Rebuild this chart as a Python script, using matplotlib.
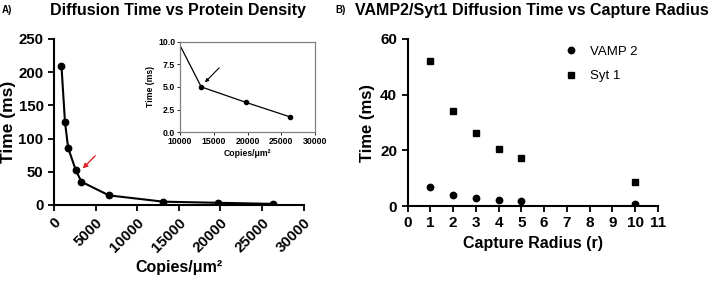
import numpy as np
import matplotlib
matplotlib.use("Agg")
import matplotlib.pyplot as plt

plt.rcParams.update({
    "font.family": ["Liberation Sans", "DejaVu Sans"],
    "font.weight": "bold",
    "axes.labelweight": "bold",
    "axes.spines.top": False,
    "axes.spines.right": False,
})

# ---------------- data ----------------
copies = [900, 1320, 1700, 2630, 3300, 6600, 13150, 19750, 26300]
diff_time = [209, 125, 86, 52, 35, 14.5, 5.0, 3.3, 1.7]

radius = [1, 2, 3, 4, 5, 10]
vamp2_time = [6.9, 4.0, 2.8, 2.0, 1.7, 0.7]
syt1_time = [52.1, 34.0, 26.1, 20.6, 17.4, 8.6]

W, H = 712, 287
fig = plt.figure(figsize=(W / 100, H / 100), dpi=100)

def fx(px):
    return px / W

def fy(py):
    return 1 - py / H

# ---------------- panel A ----------------
axA = fig.add_axes([fx(54), fy(205), fx(303.5) - fx(54), fy(39) - fy(205)])
axA.plot(copies, diff_time, color="black", lw=1.5, marker="o", ms=4.6)
axA.set_xlim(0, 30000)
axA.set_ylim(0, 250)
axA.set_xticks(np.arange(0, 30001, 5000))
axA.set_yticks(np.arange(0, 251, 50))
axA.tick_params(labelsize=10.8, width=1.3, length=4)
for lab in axA.get_xticklabels():
    lab.set_rotation(45)
    lab.set_ha("right")
    lab.set_rotation_mode("anchor")
for s in axA.spines.values():
    s.set_linewidth(1.5)
axA.set_xlabel("Copies/\u03bcm\u00b2", fontsize=11.5, labelpad=4)
axA.set_ylabel("Time (ms)", fontsize=12.5)
axA.yaxis.set_label_coords(-0.152, 0.5)
axA.annotate("", xy=(3450, 55), xytext=(4950, 74),
             arrowprops=dict(arrowstyle="-|>", color="#e0262b", lw=1.0,
                             mutation_scale=7, shrinkA=0, shrinkB=0))

# inset
axI = fig.add_axes([fx(180), fy(132.3), fx(315) - fx(180), fy(41.5) - fy(132.3)])
axI.plot(copies, diff_time, color="black", lw=0.9, marker="o", ms=3)
axI.set_xlim(10000, 30000)
axI.set_ylim(0, 10)
axI.set_xticks(np.arange(10000, 30001, 5000))
axI.set_yticks(np.arange(0, 10.1, 2.5))
axI.yaxis.set_major_formatter(matplotlib.ticker.FormatStrFormatter("%.1f"))
axI.tick_params(labelsize=6.3, width=0.6, length=2, pad=1.5)
for s in axI.spines.values():
    s.set_visible(True)
    s.set_color("#808080")
    s.set_linewidth(0.9)
axI.set_xlabel("Copies/\u03bcm\u00b2", fontsize=6.2, labelpad=2)
axI.set_ylabel("Time (ms)", fontsize=6.2, labelpad=2)
axI.annotate("", xy=(13700, 5.5), xytext=(15800, 7.1),
             arrowprops=dict(arrowstyle="-|>", color="black", lw=0.8,
                             mutation_scale=5, shrinkA=0, shrinkB=0))

fig.text(fx(2), fy(10), "A)", fontsize=7, fontweight="bold", va="center")
fig.text(fx(178), fy(10), "Diffusion Time vs Protein Density",
         fontsize=11.5, fontweight="bold", ha="center", va="center")

# ---------------- panel B ----------------
axB = fig.add_axes([fx(407.5), fy(206), fx(658) - fx(407.5), fy(39) - fy(206)])
axB.plot(radius, vamp2_time, ls="none", marker="o", ms=4.6, color="black",
         label="VAMP 2")
axB.plot(radius, syt1_time, ls="none", marker="s", ms=5, color="black",
         label="Syt 1")
axB.set_xlim(0, 11)
axB.set_ylim(0, 60)
axB.set_xticks(np.arange(0, 12, 1))
axB.set_yticks(np.arange(0, 61, 20))
axB.tick_params(labelsize=11, width=1.3, length=4)
for s in axB.spines.values():
    s.set_linewidth(1.5)
axB.set_xlabel("Capture Radius (r)", fontsize=11.5, labelpad=4)
axB.set_ylabel("Time (ms)", fontsize=12)
axB.yaxis.set_label_coords(-0.13, 0.5)
leg = axB.legend(loc="upper left", bbox_to_anchor=(0.575, 1.03), frameon=False,
                 prop={"size": 9.5, "weight": "normal"}, handletextpad=0.8,
                 labelspacing=0.9, handlelength=1.2)

fig.text(fx(335), fy(10), "B)", fontsize=7, fontweight="bold", va="center")
fig.text(fx(532), fy(10), "VAMP2/Syt1 Diffusion Time vs Capture Radius",
         fontsize=11.5, fontweight="bold", ha="center", va="center")

fig.savefig("out.png", dpi=100)
